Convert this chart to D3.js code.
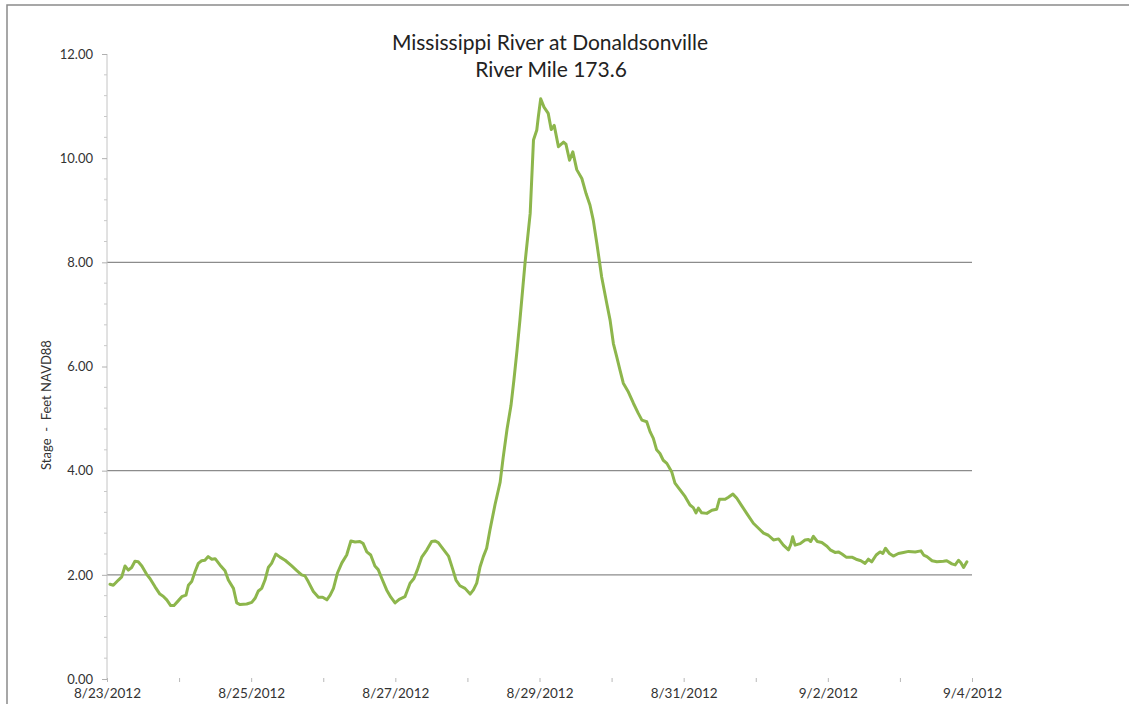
<!DOCTYPE html>
<html>
<head>
<meta charset="utf-8">
<script src="https://cdn.jsdelivr.net/npm/d3@7"></script>
<style>
  html, body { margin: 0; padding: 0; background: #fff; overflow: hidden; }
  svg { display: block; }
</style>
</head>
<body>
<svg id="chart" width="1129" height="704"></svg>
<script>
// ---- data (hours after 8/23/2012 00:00, stage in feet NAVD88) ----
const titleLines = ["Mississippi River at Donaldsonville", "River Mile 173.6"];
const yAxisTitle = "Stage  -  Feet NAVD88";
const startDate = new Date(2012, 7, 23);
const endDate = new Date(2012, 8, 4);
const yTickValues = [0, 2, 4, 6, 8, 10, 12];
const gridValues = [2, 4, 8];
const hours = [
  1.0, 2.1, 3.8, 4.9, 6.0, 7.1, 8.2, 9.3, 10.4, 11.6, 13.2, 14.3, 16.0, 17.6, 18.7, 19.9, 21.2, 22.3, 23.7,
  24.9, 26.3, 27.1, 28.2, 29.3, 30.4, 31.5, 32.6, 33.7, 34.9, 36.0, 37.6, 39.3, 40.4, 42.1, 43.2, 44.3, 46.5,
  48.2, 49.3, 50.4, 51.5, 52.6, 53.7, 54.8, 56.2, 57.6, 59.3, 61.5, 63.2, 64.8, 65.9, 67.0, 68.7, 70.4, 71.8,
  73.2, 74.3, 75.4, 76.7, 78.2, 79.8, 81.2, 82.6, 84.2, 85.3, 86.5, 87.8, 89.2, 90.3, 91.5, 93.1, 94.5, 95.9,
  97.3, 99.2, 100.9, 102.2, 103.3, 104.8, 106.5, 108.1, 109.2, 110.3, 112.0, 113.7, 115.1, 116.2, 117.5, 119.2,
  120.9, 122.0, 123.1, 124.2, 125.3, 126.4, 127.5, 129.2, 130.9, 131.9, 133.2, 134.5, 135.5, 136.5, 137.5, 138.5,
  139.2, 140.9, 142.0, 143.1, 143.6, 144.4, 145.5, 146.9, 147.9, 148.9, 150.3, 152.0, 152.8, 154.0, 155.1, 156.4,
  158.1, 159.5, 160.8, 161.9, 163.1, 164.0, 164.7, 166.4, 167.5, 168.6, 169.7, 170.8, 171.9, 173.6, 175.3, 176.9,
  178.1, 179.7, 180.8, 181.9, 183.0, 184.1, 185.2, 186.4, 188.0, 189.1, 190.8, 192.5, 194.1, 195.2, 196.1, 196.9,
  198.0, 199.7, 201.4, 203.0, 203.9, 205.8, 206.9, 208.4, 209.7, 211.4, 213.1, 215.2, 217.0, 218.6, 220.2, 221.9,
  223.6, 225.2, 226.9, 227.7, 228.3, 229.1, 230.8, 232.4, 233.5, 234.3, 235.2, 236.5, 238.0, 239.7, 240.8, 242.4,
  243.5, 244.7, 246.1, 248.0, 249.4, 251.0, 252.4, 253.5, 254.6, 256.1, 257.4, 258.3, 259.2, 260.5, 261.8, 263.5,
  265.2, 266.9, 269.1, 271.0, 271.9, 273.0, 274.7, 276.3, 278.5, 279.6, 281.3, 282.4, 283.5, 284.3, 285.2, 286.3
];
const stage = [
  1.82, 1.80, 1.90, 1.96, 2.17, 2.09, 2.14, 2.26, 2.25, 2.17, 2.01, 1.93, 1.77, 1.63, 1.59, 1.52, 1.41, 1.41, 1.50,
  1.58, 1.61, 1.80, 1.87, 2.06, 2.22, 2.27, 2.28, 2.35, 2.30, 2.31, 2.19, 2.08, 1.90, 1.74, 1.46, 1.43, 1.44,
  1.47, 1.55, 1.69, 1.74, 1.90, 2.14, 2.22, 2.40, 2.34, 2.28, 2.17, 2.08, 2.00, 1.98, 1.87, 1.68, 1.57, 1.57,
  1.52, 1.61, 1.74, 2.03, 2.23, 2.38, 2.65, 2.63, 2.64, 2.60, 2.44, 2.38, 2.17, 2.10, 1.93, 1.71, 1.57, 1.46,
  1.53, 1.58, 1.84, 1.93, 2.09, 2.34, 2.48, 2.64, 2.65, 2.62, 2.49, 2.36, 2.11, 1.90, 1.79, 1.74,
  1.63, 1.71, 1.84, 2.15, 2.35, 2.51, 2.86, 3.35, 3.78, 4.25, 4.80, 5.25, 5.75, 6.30, 6.90, 7.55,
  8.00, 8.94, 10.35, 10.54, 10.79, 11.14, 10.98, 10.86, 10.55, 10.63, 10.22, 10.31, 10.27, 9.96, 10.12, 9.78,
  9.61, 9.32, 9.10, 8.81, 8.36, 8.00, 7.72, 7.21, 6.89, 6.44, 6.19, 5.93, 5.68, 5.51, 5.29, 5.10,
  4.97, 4.94, 4.75, 4.62, 4.40, 4.33, 4.20, 4.14, 3.98, 3.76, 3.63, 3.50, 3.34, 3.29, 3.19, 3.28,
  3.19, 3.18, 3.24, 3.26, 3.45, 3.45, 3.49, 3.55, 3.47, 3.32, 3.17, 2.99, 2.89, 2.80, 2.76, 2.67,
  2.69, 2.57, 2.48, 2.59, 2.73, 2.57, 2.60, 2.67, 2.68, 2.64, 2.74, 2.64, 2.62, 2.55, 2.48, 2.43,
  2.44, 2.40, 2.34, 2.34, 2.30, 2.27, 2.22, 2.30, 2.25, 2.38, 2.44, 2.41, 2.51, 2.41, 2.36, 2.41,
  2.43, 2.45, 2.44, 2.46, 2.38, 2.35, 2.27, 2.25, 2.26, 2.27, 2.21, 2.19, 2.28, 2.23, 2.14, 2.25
];

// ---- drawing ----
const svg = d3.select("#chart");
const plot = { left: 107, right: 972, top: 54, bottom: 679 };
const fontFam = "Lato, 'Open Sans', sans-serif";

const points = hours.map((h, i) => ({ t: new Date(startDate.getTime() + h * 3600e3), v: stage[i] }));

const x = d3.scaleTime().domain([startDate, endDate]).range([plot.left, plot.right]);
const y = d3.scaleLinear().domain([0, 12]).range([plot.bottom, plot.top]);

// outer chart frame (extends beyond the window on right/bottom)
svg.append("rect")
  .attr("x", 7).attr("y", 5).attr("width", 1200).attr("height", 800)
  .attr("fill", "none").attr("stroke", "#8a8a8a").attr("stroke-width", 1.5);

// gridlines
svg.append("g").selectAll("line").data(gridValues).join("line")
  .attr("x1", plot.left).attr("x2", plot.right)
  .attr("y1", d => y(d)).attr("y2", d => y(d))
  .attr("stroke", "#8c8c8c").attr("stroke-width", 1.2);

// y axis
const yAxis = d3.axisLeft(y).tickValues(yTickValues).tickFormat(d3.format(".2f")).tickSize(5).tickPadding(9);
const gy = svg.append("g").attr("transform", `translate(${plot.left},0)`).call(yAxis);
gy.select(".domain").attr("stroke", "#c4c4c4").attr("d", `M0,${plot.top}V${plot.bottom}`);
gy.selectAll(".tick line").attr("stroke", "#b0b0b0");
gy.selectAll(".tick text").attr("fill", "#333").style("font-family", fontFam).style("font-size", "13px");

// y minor ticks
const minor = d3.range(0, 12.0001, 0.4).filter(v => Math.abs(v / 2 - Math.round(v / 2)) > 1e-6);
svg.append("g").selectAll("line").data(minor).join("line")
  .attr("x1", plot.left - 3).attr("x2", plot.left)
  .attr("y1", d => y(d)).attr("y2", d => y(d))
  .attr("stroke", "#c8c8c8").attr("stroke-width", 1);

// x axis (ticks only, daily; labels every 2 days)
const xAxis = d3.axisBottom(x).ticks(d3.timeDay.every(1)).tickSize(4).tickPadding(6)
  .tickFormat(d => (d3.timeDay.count(startDate, d) % 2 === 0) ? d3.timeFormat("%-m/%-d/%Y")(d) : "");
const gx = svg.append("g").attr("transform", `translate(0,${plot.bottom - 1})`).call(xAxis);
gx.select(".domain").remove();
gx.selectAll(".tick line").attr("stroke", "#b8b8b8");
gx.selectAll(".tick text").attr("fill", "#333").style("font-family", fontFam).style("font-size", "13.5px");

// data line
const line = d3.line().x(d => x(d.t)).y(d => y(d.v)).curve(d3.curveLinear);
svg.append("path").datum(points)
  .attr("d", line).attr("fill", "none")
  .attr("stroke", "#8db64c").attr("stroke-width", 3)
  .attr("stroke-linejoin", "round").attr("stroke-linecap", "round");

// title
svg.append("text").attr("x", 550).attr("y", 50).attr("text-anchor", "middle")
  .style("font-family", fontFam).style("font-size", "21px").attr("fill", "#222")
  .text(titleLines[0]);
svg.append("text").attr("x", 551).attr("y", 77).attr("text-anchor", "middle")
  .style("font-family", fontFam).style("font-size", "21px").attr("fill", "#222")
  .text(titleLines[1]);

// y-axis title
svg.append("text").attr("transform", "translate(51,405) rotate(-90)")
  .attr("text-anchor", "middle").attr("xml:space", "preserve")
  .style("white-space", "pre")
  .style("font-family", fontFam).style("font-size", "13px").attr("fill", "#333")
  .text(yAxisTitle);
</script>
</body>
</html>
